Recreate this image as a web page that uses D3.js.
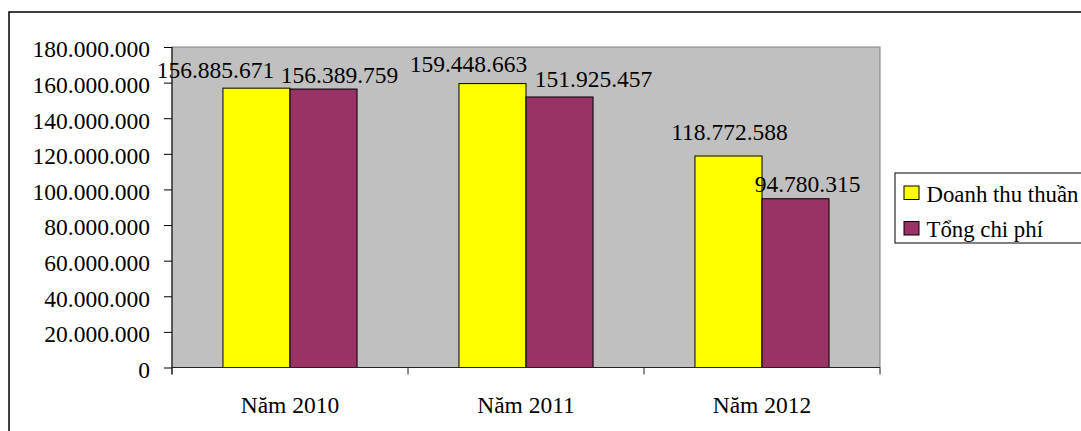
<!DOCTYPE html>
<html><head><meta charset="utf-8">
<script src="https://cdn.jsdelivr.net/npm/d3@7"></script>
<style>body{margin:0;background:#fff}svg{display:block}</style>
</head><body>
<script>
const categories = ["Năm 2010", "Năm 2011", "Năm 2012"];
const seriesNames = ["Doanh thu thuần", "Tổng chi phí"];
const doanhThu = [156885671, 159448663, 118772588];
const tongChiPhi = [156389759, 151925457, 94780315];
const yTicks = [0, 20000000, 40000000, 60000000, 80000000, 100000000, 120000000, 140000000, 160000000, 180000000];
const colors = ["#FFFF00", "#993366"];
// manual label nudges [dx, dy] per series per category (layout only)
const labelNudge = [
  [[-41, -10], [-24, -11.5], [1, -16]],
  [[16, -6], [34, -9.5], [12, -6.5]]
];

const W = 1081, H = 431, FS = 23.5, FF = "Liberation Serif";
const fmt = v => d3.format(",")(v).replace(/,/g, ".");
const svg = d3.select("body").append("svg").attr("width", W).attr("height", H);

// outer chart border
svg.append("rect").attr("x", 9).attr("y", 12).attr("width", 1100).attr("height", 450)
  .attr("fill", "#fff").attr("stroke", "#000").attr("stroke-width", 1.5);

const pl = 172, pr = 880, pt = 47, pb = 367.5;
const x0 = d3.scaleBand().domain(categories).range([pl, pr]).paddingInner(0).paddingOuter(0);
const inner = d3.scaleBand().domain(seriesNames).range([0, x0.bandwidth()]).paddingInner(0).paddingOuter(0.76);
const y = d3.scaleLinear().domain([0, 180000000]).range([pb, pt]);

svg.append("rect").attr("x", pl).attr("y", pt).attr("width", pr - pl).attr("height", pb - pt)
  .attr("fill", "#C0C0C0").attr("stroke", "#808080").attr("stroke-width", 1);

const series = [doanhThu, tongChiPhi];
series.forEach((vals, si) => {
  svg.append("g").selectAll("rect").data(vals).join("rect")
    .attr("x", (d, i) => x0(categories[i]) + inner(seriesNames[si]))
    .attr("y", d => y(d))
    .attr("width", inner.bandwidth())
    .attr("height", d => pb - y(d))
    .attr("fill", colors[si]).attr("stroke", "#000").attr("stroke-width", 1);
});

// Y axis
const yAxis = svg.append("g").attr("transform", `translate(${pl},0)`)
  .call(d3.axisLeft(y).tickValues(yTicks).tickSize(8).tickPadding(14).tickFormat(d => fmt(d)))
  .attr("font-family", FF).attr("font-size", FS);
yAxis.select(".domain").remove();
yAxis.selectAll("line").attr("stroke", "#000");
yAxis.selectAll("text").attr("dy", "0.42em").attr("fill", "#000");
svg.append("line").attr("x1", pl).attr("x2", pl).attr("y1", pt).attr("y2", pb + 7).attr("stroke", "#000");

// X axis
svg.append("line").attr("x1", pl).attr("x2", pr).attr("y1", pb).attr("y2", pb).attr("stroke", "#222");
const bounds = categories.map(c => x0(c)).concat([pr]);
svg.append("g").selectAll("line").data(bounds).join("line")
  .attr("x1", d => d).attr("x2", d => d).attr("y1", pb).attr("y2", pb + 7).attr("stroke", "#222");
svg.append("g").attr("font-family", FF).attr("font-size", FS).selectAll("text").data(categories).join("text")
  .attr("x", d => x0(d) + x0.bandwidth() / 2).attr("y", 413)
  .attr("text-anchor", "middle").text(d => d);

// data labels
series.forEach((vals, si) => {
  svg.append("g").attr("font-family", FF).attr("font-size", FS).selectAll("text").data(vals).join("text")
    .attr("x", (d, i) => x0(categories[i]) + inner(seriesNames[si]) + inner.bandwidth() / 2 + labelNudge[si][i][0])
    .attr("y", (d, i) => y(d) + labelNudge[si][i][1])
    .attr("text-anchor", "middle").text(d => fmt(d));
});

// legend
const lg = svg.append("g").attr("font-family", FF).attr("font-size", 22.8);
lg.append("rect").attr("x", 895).attr("y", 173).attr("width", 250).attr("height", 70)
  .attr("fill", "#fff").attr("stroke", "#000").attr("stroke-width", 1);
seriesNames.forEach((n, i) => {
  lg.append("rect").attr("x", 904).attr("y", 186 + i * 35.5).attr("width", 15).attr("height", 13.5)
    .attr("fill", colors[i]).attr("stroke", "#000").attr("stroke-width", 1);
  lg.append("text").attr("x", 926.5).attr("y", 201.5 + i * 35).text(n);
});
</script>
</body></html>
